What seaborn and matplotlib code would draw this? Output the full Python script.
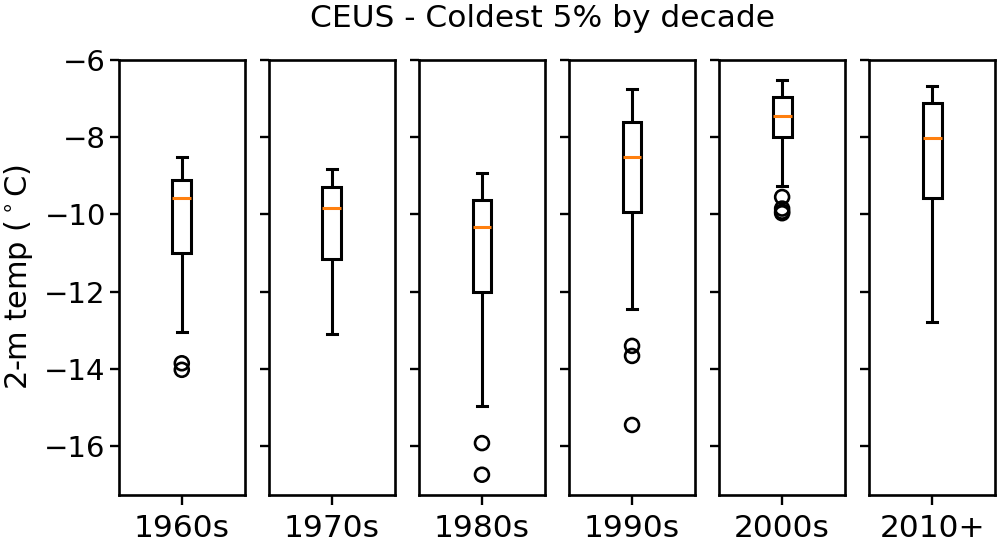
import numpy as np
import pandas as pd
import matplotlib
matplotlib.use("Agg")
import matplotlib.pyplot as plt
import seaborn as sns

# === DATA ===
decades = ["1960s", "1970s", "1980s", "1990s", "2000s", "2010+"]
# five-number summary per decade: low whisker, Q1, median, Q3, high whisker
whisk_lo = [-13.04, -13.09, -14.98, -12.46, -9.26, -12.80]
q1 = [-10.99, -11.16, -12.02, -9.93, -7.99, -9.57]
medians = [-9.58, -9.83, -10.32, -8.51, -7.46, -8.01]
q3 = [-9.11, -9.29, -9.63, -7.61, -6.95, -7.12]
whisk_hi = [-8.52, -8.82, -8.94, -6.74, -6.52, -6.67]
# outliers per decade
fliers = [
    [-13.86, -14.03],
    [],
    [-15.93, -16.75],
    [-13.41, -13.67, -15.46],
    [-9.55, -9.85, -9.93, -9.97],
    [],
]

# === STYLE ===
plt.rcParams.update({
    "font.family": ["DejaVu Sans"],
    "axes.linewidth": 1.9,
    "xtick.major.width": 1.7,
    "ytick.major.width": 1.7,
    "xtick.major.size": 7,
    "ytick.major.size": 6.5,
})

fig, axes = plt.subplots(1, 6, figsize=(10, 5.51), dpi=100, sharey=True)
fig.subplots_adjust(left=0.119, right=0.995, top=0.891, bottom=0.102, wspace=0.195)

for i, ax in enumerate(axes):
    summary = [whisk_lo[i], q1[i], medians[i], q3[i], whisk_hi[i]]
    sns.boxplot(y=summary, ax=ax, width=0.15, whis=(0, 100), showfliers=False,
                color="white", linecolor="black", linewidth=2.2,
                medianprops={"color": "#ff7f0e", "linewidth": 2.2})
    if fliers[i]:
        sns.scatterplot(x=np.zeros(len(fliers[i])), y=fliers[i], ax=ax,
                        marker="o", s=100, facecolor="none",
                        edgecolor="black", linewidth=1.9, zorder=5)
    ax.set_xlim(-0.5, 0.5)
    ax.set_xticks([0])
    ax.set_xticklabels([decades[i]], fontsize=22.5)
    ax.tick_params(axis="x", pad=7)
    ax.set_ylabel("")
    ax.set_xlabel("")

axes[0].set_ylim(-17.27, -6)
axes[0].set_yticks([-16, -14, -12, -10, -8, -6])
axes[0].tick_params(axis="y", labelsize=21, pad=3)

fig.text(0.5425, 1 - 27.3 / 551, "CEUS - Coldest 5% by decade",
         ha="center", va="baseline", fontsize=22.5)
fig.text(0.019, 0.497, r"2-m temp ($^\circ$C)", rotation=90,
         ha="center", va="center", fontsize=22)

plt.savefig("out.png", dpi=100)
plt.close()
